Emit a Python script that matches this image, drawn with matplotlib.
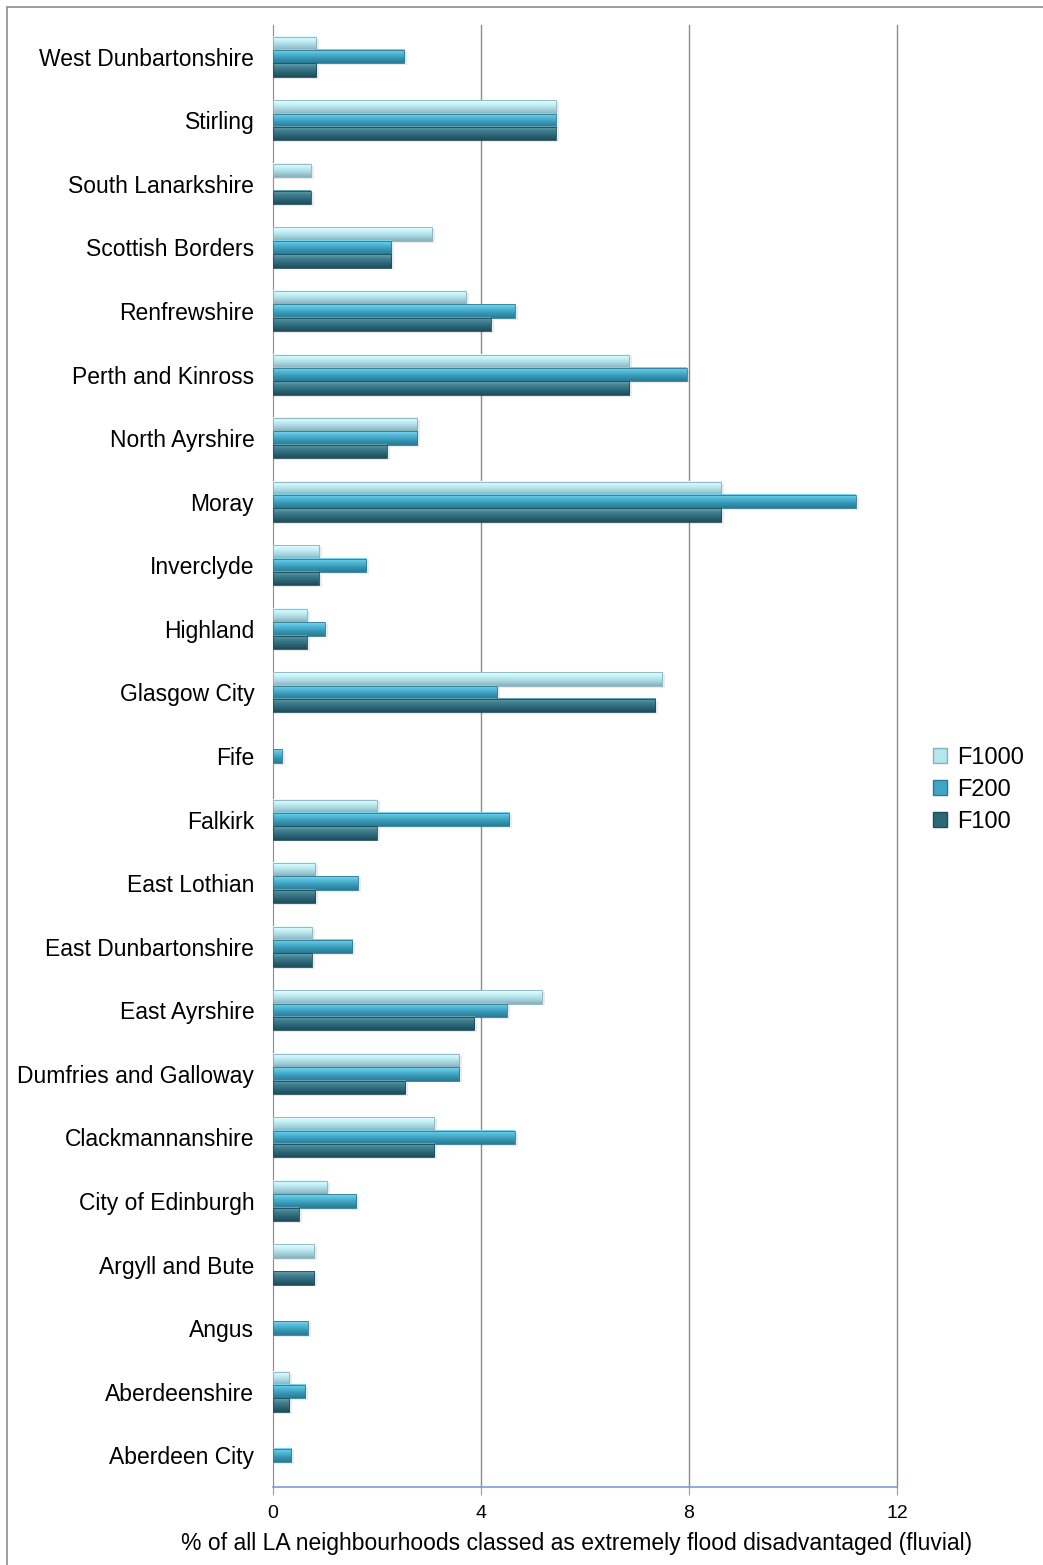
import numpy as np
import matplotlib.pyplot as plt
from matplotlib.patches import Patch, Rectangle
from matplotlib.colors import to_rgb

plt.rcParams["font.family"] = ["Liberation Sans", "DejaVu Sans"]

areas = ["Aberdeen City", "Aberdeenshire", "Angus", "Argyll and Bute",
         "City of Edinburgh", "Clackmannanshire", "Dumfries and Galloway",
         "East Ayrshire", "East Dunbartonshire", "East Lothian", "Falkirk",
         "Fife", "Glasgow City", "Highland", "Inverclyde", "Moray",
         "North Ayrshire", "Perth and Kinross", "Renfrewshire",
         "Scottish Borders", "South Lanarkshire", "Stirling",
         "West Dunbartonshire"]

f100 = [0, 0.31, 0, 0.79, 0.50, 3.10, 2.54, 3.87, 0.75, 0.81, 2.00,
        0, 7.35, 0.65, 0.88, 8.62, 2.19, 6.85, 4.19, 2.27, 0.73, 5.44, 0.83]
f200 = [0.35, 0.62, 0.67, 0, 1.60, 4.65, 3.58, 4.50, 1.52, 1.63, 4.54,
        0.17, 4.31, 1.00, 1.79, 11.21, 2.77, 7.96, 4.65, 2.27, 0, 5.44, 2.52]
f1000 = [0, 0.31, 0, 0.79, 1.04, 3.10, 3.58, 5.17, 0.75, 0.81, 2.00,
         0, 7.48, 0.65, 0.88, 8.62, 2.77, 6.85, 3.71, 3.06, 0.73, 5.44, 0.83]

series = ["F1000", "F200", "F100"]

# gradient stops (top -> bottom) for each series
shades = {
    "F1000": ["#e4fdff", "#c4f0f6", "#a6d4de", "#86b0ba"],
    "F200": ["#7fd6ee", "#4fb8d6", "#3596b4", "#2a7a92"],
    "F100": ["#6aa2b0", "#3f7f90", "#2c6576", "#1d4d5b"],
}
legend_col = {"F1000": "#b4e6ee", "F200": "#3fa6c6", "F100": "#2c6878"}

h = 0.21


def gradient(stops, n=64):
    cols = np.array([to_rgb(c) for c in stops])
    pos = np.linspace(0, 1, len(stops))
    t = np.linspace(0, 1, n)
    return np.stack([np.interp(t, pos, cols[:, k]) for k in range(3)], axis=1)[:, None, :]


fig = plt.figure(figsize=(10.43, 15.65), dpi=100)
ax = fig.add_axes([273 / 1043, 1 - 1487 / 1565, 624 / 1043, 1462 / 1565])

y = np.arange(len(areas))
offsets = {"F1000": h, "F200": 0.0, "F100": -h}
values = {"F1000": f1000, "F200": f200, "F100": f100}

for name in series:
    img = gradient(shades[name])
    for yi, v in zip(y, values[name]):
        if v <= 0:
            continue
        yc = yi + offsets[name]
        # soft drop shadow
        ax.add_patch(Rectangle((0, yc - h / 2 - 0.03), v + 0.06, h,
                               color="#000000", alpha=0.08, lw=0, zorder=2))
        ax.imshow(img, extent=(0, v, yc - h / 2, yc + h / 2), origin="upper",
                  aspect="auto", interpolation="bilinear", zorder=3)
        ax.add_patch(Rectangle((0, yc - h / 2), v, h, fill=False,
                               ec=shades[name][-1], lw=0.6, zorder=4))

ax.set_xlim(0, 12)
ax.set_ylim(-0.5, len(areas) - 0.5)
ax.set_xticks([0, 4, 8, 12])
ax.set_yticks(y)
ax.set_yticklabels(areas, fontsize=16.5)
ax.tick_params(axis="y", length=0, pad=13.5)
ax.tick_params(axis="x", labelsize=14, length=6, color="#7a9fd0", pad=7)
for gx in [4, 8, 12]:
    ax.axvline(gx, color="#8c8c8c", lw=1, zorder=1, clip_on=False)
for s in ["top", "right"]:
    ax.spines[s].set_visible(False)
ax.spines["left"].set_color("#8c8c8c")
ax.spines["bottom"].set_color("#7a9fd0")
ax.spines["bottom"].set_linewidth(1.2)
ax.spines["bottom"].set_zorder(5)
ax.set_xlabel("% of all LA neighbourhoods classed as extremely flood disadvantaged (fluvial)",
              fontsize=16.5)
ax.xaxis.set_label_coords(0.486, -0.031)

handles = [Patch(facecolor=legend_col[n], edgecolor=shades[n][-1], label=n) for n in series]
fig.legend(handles=handles, loc="center left", bbox_to_anchor=(912 / 1043, 1 - 790 / 1565),
           frameon=False, fontsize=17, handlelength=0.6, handleheight=0.6,
           handletextpad=0.4, labelspacing=0.42)

# outer chart frame
fig.add_artist(Rectangle((7 / 1043, -0.1), 1.2, 1 - 7 / 1565 + 0.1, transform=fig.transFigure,
                         fill=False, ec="#8c8c8c", lw=1.2))

fig.savefig("out.png", dpi=100)
